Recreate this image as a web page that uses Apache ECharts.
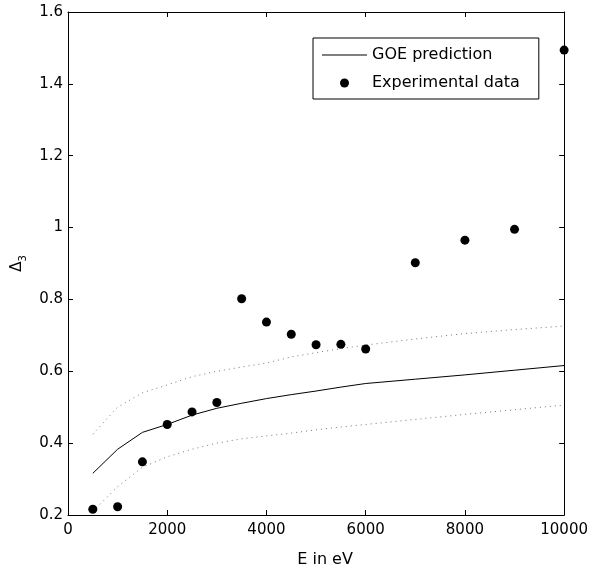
<!DOCTYPE html>
<html>
<head>
<meta charset="utf-8">
<script src="https://cdn.jsdelivr.net/npm/echarts@6/dist/echarts.min.js"></script>
<style>html,body{margin:0;padding:0;background:#fff;}#c{width:591px;height:578px;}</style>
</head>
<body>
<div id="c"></div>
<script>
const energies = [500,1000,1500,2000,2500,3000,3500,4000,4500,5000,5500,6000,7000,8000,9000,10000];
const goe =      [0.316,0.383,0.430,0.452,0.478,0.497,0.511,0.524,0.535,0.545,0.556,0.566,0.578,0.590,0.603,0.616];
const goeUpper = [0.425,0.500,0.540,0.562,0.585,0.600,0.612,0.623,0.640,0.652,0.663,0.673,0.690,0.705,0.716,0.726];
const goeLower = [0.210,0.279,0.333,0.362,0.383,0.400,0.412,0.420,0.428,0.437,0.445,0.452,0.466,0.480,0.493,0.506];
const experimental = [0.216,0.223,0.348,0.452,0.487,0.513,0.802,0.737,0.703,0.674,0.675,0.662,0.902,0.965,0.995,1.494];
const xTicks = {min:0, max:10000, interval:2000};
const yTicks = {min:0.2, max:1.6, interval:0.2};

const pairs = arr => energies.map((e,i)=>[e, arr[i]]);
const font = 'DejaVu Sans';
const axisCommon = {
  axisLine:{show:true, onZero:false, lineStyle:{color:'#000', width:1}},
  axisTick:{show:true, inside:true, length:5, lineStyle:{color:'#000'}},
  splitLine:{show:false}
};
const chart = echarts.init(document.getElementById('c'), null, {renderer:'canvas'});
chart.setOption({
  animation:false,
  backgroundColor:'#fff',
  grid:{left:68, right:25, top:12, bottom:63},
  legend:{
    orient:'vertical', left:313, top:38,
    padding:[8,19,7,9], itemGap:10, itemWidth:45, itemHeight:9,
    borderColor:'#000', borderWidth:1, backgroundColor:'#fff',
    textStyle:{fontFamily:font, fontSize:16, color:'#000', lineHeight:18},
    data:[
      {name:'GOE prediction', icon:'path://M0,0H45V1H0Z', itemStyle:{color:'#000', opacity:1}},
      {name:'Experimental data', icon:'circle', itemStyle:{color:'#000', opacity:1}}
    ]
  },
  xAxis:[
    Object.assign({type:'value', position:'bottom', min:xTicks.min, max:xTicks.max, interval:xTicks.interval,
      name:'E in eV', nameLocation:'middle', nameGap:37,
      nameTextStyle:{fontFamily:font, fontSize:16, color:'#000', padding:[0,0,0,18]},
      axisLabel:{fontFamily:font, fontSize:15, color:'#000', margin:8, formatter:v=>String(v)}}, axisCommon),
    Object.assign({type:'value', position:'top', min:xTicks.min, max:xTicks.max, interval:xTicks.interval,
      axisLabel:{show:false}}, axisCommon)
  ],
  yAxis:[
    Object.assign({type:'value', position:'left', min:yTicks.min, max:yTicks.max, interval:yTicks.interval,
      name:'{d|Δ}{s|3}', nameLocation:'middle', nameGap:40, nameRotate:90,
      nameTextStyle:{rich:{
        d:{fontFamily:font, fontSize:15, color:'#000', lineHeight:18, verticalAlign:'top'},
        s:{fontFamily:font, fontSize:10, color:'#000', lineHeight:10, verticalAlign:'bottom', padding:[6,0,0,0]}
      }},
      axisLabel:{fontFamily:font, fontSize:15, color:'#000', margin:5}}, axisCommon),
    Object.assign({type:'value', position:'right', min:yTicks.min, max:yTicks.max, interval:yTicks.interval,
      axisLabel:{show:false}}, axisCommon)
  ],
  series:[
    {name:'GOE prediction', type:'line', data:pairs(goe), symbol:'none', z:3,
      lineStyle:{color:'#000', width:1}},
    {name:'GOE upper', type:'line', data:pairs(goeUpper), symbol:'none', z:2,
      lineStyle:{color:'#777', width:1, type:[1,4]}},
    {name:'GOE lower', type:'line', data:pairs(goeLower), symbol:'none', z:2,
      lineStyle:{color:'#777', width:1, type:[1,4]}},
    {name:'Experimental data', type:'scatter', data:pairs(experimental), symbol:'circle', symbolSize:9, z:4,
      itemStyle:{color:'#000', opacity:1}}
  ]
});
</script>
</body>
</html>
